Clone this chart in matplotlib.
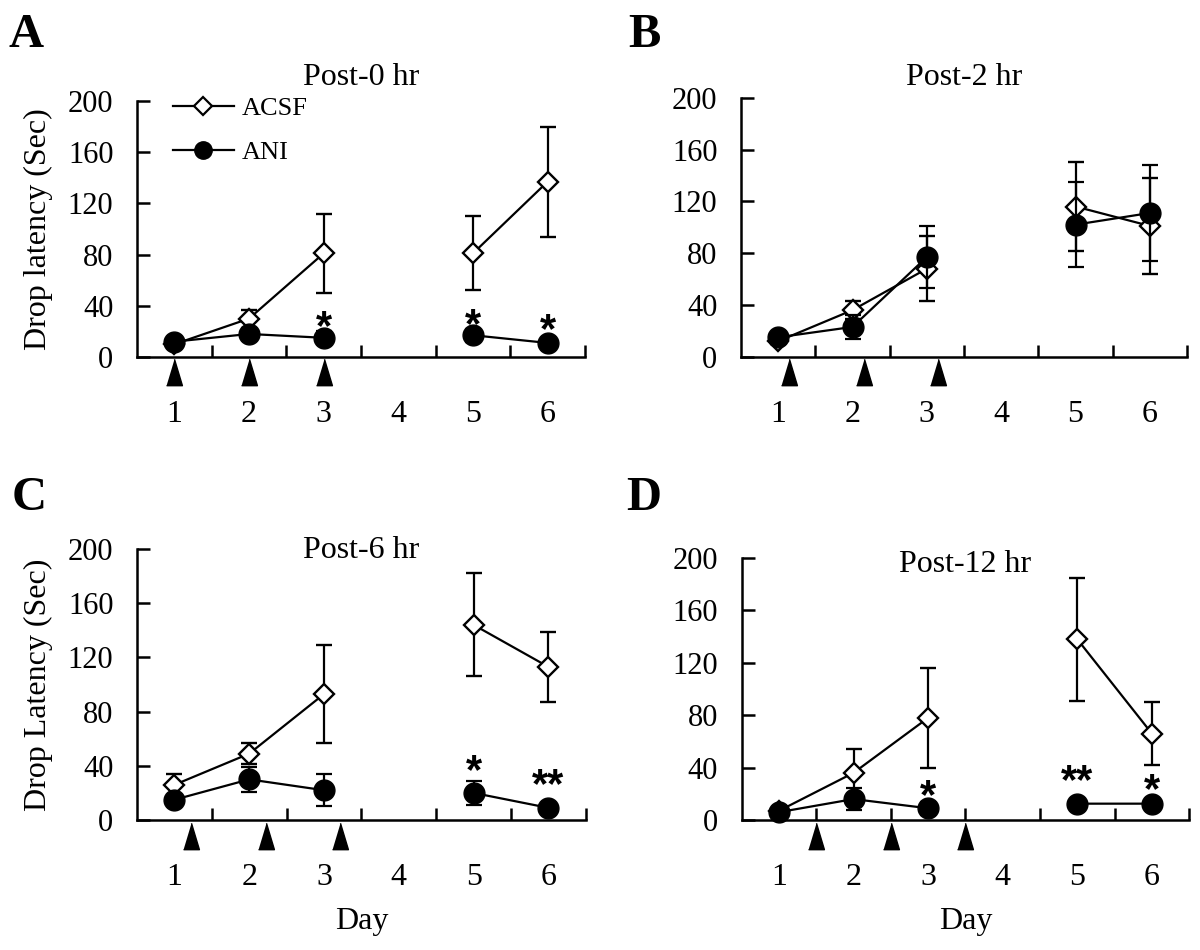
import numpy as np
import matplotlib
matplotlib.use("Agg")
import matplotlib.pyplot as plt
from matplotlib.lines import Line2D

plt.rcParams['font.family'] = ['Liberation Serif', 'DejaVu Serif']

nan = np.nan
days = [1, 2, 3, 4, 5, 6]
day_labels = ['1', '2', '3', '4', '5', '6']
y_ticks = [0, 40, 80, 120, 160, 200]
sep_ticks = [1.5, 2.5, 3.5, 4.5, 5.5, 6.5]

panel_letters = ['A', 'B', 'C', 'D']
titles = ['Post-0 hr', 'Post-2 hr', 'Post-6 hr', 'Post-12 hr']
series_names = ['ACSF', 'ANI']

# Panel A: Post-0 hr
acsf_A = [10, 30, 81, nan, 81, 137]
acsf_A_err = [2, 7, 31, nan, 29, 43]
ani_A = [12, 18, 15, nan, 17, 11]
ani_A_err = [3, 4, 5, nan, 5, 2]
inj_A = [1, 2, 3]
star_A_x = [3, 5, 6]
star_A_y = [38, 40, 36]
star_A_txt = ['*', '*', '*']

# Panel B: Post-2 hr
acsf_B = [12, 36, 68, nan, 116, 101]
acsf_B_err = [2, 7, 25, nan, 34, 37]
ani_B = [15, 23, 77, nan, 102, 111]
ani_B_err = [3, 9, 24, nan, 33, 37]
inj_B = [1.15, 2.15, 3.15]
star_B_x = []
star_B_y = []
star_B_txt = []

# Panel C: Post-6 hr
acsf_C = [26, 49, 93, nan, 144, 113]
acsf_C_err = [8, 8, 36, nan, 38, 26]
ani_C = [15, 30, 22, nan, 20, 9]
ani_C_err = [2, 9, 12, nan, 9, 1.5]
inj_C = [1.22, 2.22, 3.22]
star_C_x = [5, 6]
star_C_y = [50, 40]
star_C_txt = ['*', '**']

# Panel D: Post-12 hr
acsf_D = [7, 36, 78, nan, 138, 66]
acsf_D_err = [2, 18, 38, nan, 47, 24]
ani_D = [6, 16, 9, nan, 12.5, 12.5]
ani_D_err = [2, 8.5, 5, nan, 2, 2]
inj_D = [1.5, 2.5, 3.5]
star_D_x = [3, 5, 6]
star_D_y = [33, 44, 37]
star_D_txt = ['*', '**', '*']

panels = [
    (acsf_A, acsf_A_err, ani_A, ani_A_err, inj_A, star_A_x, star_A_y, star_A_txt),
    (acsf_B, acsf_B_err, ani_B, ani_B_err, inj_B, star_B_x, star_B_y, star_B_txt),
    (acsf_C, acsf_C_err, ani_C, ani_C_err, inj_C, star_C_x, star_C_y, star_C_txt),
    (acsf_D, acsf_D_err, ani_D, ani_D_err, inj_D, star_D_x, star_D_y, star_D_txt),
]

rects = [
    [0.1142, 0.6242, 0.3733, 0.2695],
    [0.6175, 0.6245, 0.3717, 0.2726],
    [0.1142, 0.1368, 0.3740, 0.2853],
    [0.6180, 0.1368, 0.3730, 0.2758],
]
title_y = [1.031, 1.018, 0.937, 0.916]
letter_pos = [(0.0217, 0.9505), (0.5367, 0.9505), (0.0242, 0.463), (0.5367, 0.463)]
ylabels = ['Drop latency (Sec)', None, 'Drop Latency (Sec)', None]
xlabels = [None, None, 'Day', 'Day']

tri = [(-0.3, -0.5), (0.3, -0.5), (0.0, 0.5)]

fig = plt.figure(figsize=(12, 9.5), dpi=100)
FS = 23
lw = 1.6

for i, (acsf, acsf_err, ani, ani_err, inj, sx, sy, st) in enumerate(panels):
    ax = fig.add_axes(rects[i])
    ax.errorbar(days, acsf, yerr=acsf_err, color='black', lw=lw, marker='D',
                ms=10.5, mfc='white', mec='black', mew=1.7, capsize=5.5,
                elinewidth=lw, capthick=lw, clip_on=False, zorder=3,
                label=series_names[0])
    ax.errorbar(days, ani, yerr=ani_err, color='black', lw=lw, marker='o',
                ms=15, mfc='black', mec='black', capsize=5.5,
                elinewidth=lw, capthick=lw, clip_on=False, zorder=4,
                label=series_names[1])
    ax.plot(inj, [-12] * len(inj), linestyle='none', marker=tri, ms=19,
            color='black', clip_on=False)
    for x, y, t in zip(sx, sy, st):
        ax.text(x, y, t, ha='center', va='top', fontsize=30,
                fontweight='bold', family='Liberation Sans')
    ax.set_xlim(0.5, 6.5)
    ax.set_ylim(0, 200)
    ax.spines['top'].set_visible(False)
    ax.spines['right'].set_visible(False)
    ax.spines['left'].set_linewidth(1.8)
    ax.spines['bottom'].set_linewidth(1.8)
    ax.set_xticks(days)
    ax.set_xticklabels(day_labels, fontsize=FS)
    ax.set_xticks(sep_ticks, minor=True)
    ax.tick_params(axis='x', which='major', length=0, pad=31)
    ax.tick_params(axis='x', which='minor', direction='in', length=9, width=1.8)
    ax.set_yticks(y_ticks)
    ax.set_yticklabels([str(v) for v in y_ticks], fontsize=FS - 1)
    ax.tick_params(axis='y', direction='in', length=9, width=1.8, pad=17)
    ax.set_title(titles[i], fontsize=FS, y=title_y[i])
    if ylabels[i]:
        ax.set_ylabel(ylabels[i], fontsize=FS, labelpad=11)
    if xlabels[i]:
        ax.set_xlabel(xlabels[i], fontsize=FS, labelpad=11)
    if i == 0:
        handles = [
            Line2D([], [], color='black', lw=lw, marker='D', ms=9, mfc='white', mec='black', mew=1.6),
            Line2D([], [], color='black', lw=lw, marker='o', ms=12.5, mfc='black', mec='black'),
        ]
        ax.legend(handles, series_names, loc='upper left',
                  bbox_to_anchor=(0.08, 1.018), frameon=False, borderpad=0,
                  borderaxespad=0, fontsize=19, handlelength=2.3,
                  handletextpad=0.3, labelspacing=0.8)
    fig.text(letter_pos[i][0], letter_pos[i][1], panel_letters[i],
             fontsize=35, fontweight='bold', ha='center', va='baseline')

fig.savefig('out.png', dpi=100)
